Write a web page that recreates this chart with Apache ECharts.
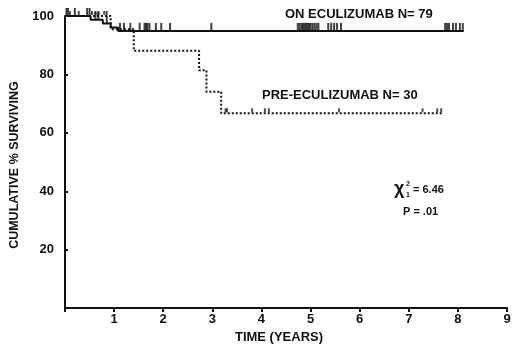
<!DOCTYPE html>
<html>
<head>
<meta charset="utf-8">
<script src="https://cdn.jsdelivr.net/npm/echarts@6/dist/echarts.min.js"></script>
<style>
  html, body { margin: 0; padding: 0; background: #fff; }
  #chart { width: 520px; height: 349px; }
</style>
</head>
<body>
<div id="chart"></div>
<script>
// Kaplan-Meier steps (years, % surviving)
const onTimes = [0, 0.52, 0.77, 0.93, 1.08, 8.12];
const onSurv = [100, 98.7, 97.4, 96.1, 94.9, 94.9];
const preTimes = [0, 0.93, 1.4, 2.73, 2.88, 3.18, 7.7];
const preSurv = [100, 95.5, 88.1, 81.4, 74.1, 66.7, 66.7];

// censored observations (years)
const onCensor = [0.03, 0.06, 0.2, 0.45, 0.5, 0.62, 0.68, 0.85, 1.12, 1.2, 1.33, 1.52,
  1.62, 1.65, 1.68, 1.72, 1.85, 1.96, 2.14, 2.98,
  4.74, 4.78, 4.82, 4.85, 4.88, 4.91, 4.94, 4.97, 5.0, 5.04, 5.08, 5.12, 5.16,
  5.36, 5.42, 5.48, 5.54, 5.62,
  7.74, 7.78, 7.82, 7.9, 7.96, 8.04, 8.1];
const preCensor = [0.1, 0.28, 0.55, 0.62, 0.68, 0.8, 0.85, 3.27, 3.3, 3.81, 4.07, 4.15,
  5.58, 7.28, 7.58, 7.66];

const xTicks = [1, 2, 3, 4, 5, 6, 7, 8, 9];
const yTicks = [20, 40, 60, 80, 100];

function survAt(times, surv, t) {
  let v = surv[0];
  for (let i = 0; i < times.length; i++) {
    if (times[i] <= t) v = surv[i];
  }
  return v;
}

const chart = echarts.init(document.getElementById("chart"));
const font = "Liberation Sans";

chart.setOption({
  animation: false,
  grid: { left: 61, right: 13, top: 16, bottom: 37 },
  xAxis: {
    type: "value",
    min: 0,
    max: 9,
    interval: 1,
    name: "TIME (YEARS)",
    nameLocation: "middle",
    nameGap: 20,
    nameTextStyle: { fontFamily: font, fontWeight: "bold", fontSize: 13, color: "#111", padding: [0, 0, 0, -14] },
    axisLine: { lineStyle: { color: "#111", width: 2 } },
    axisTick: { length: 4, lineStyle: { color: "#111", width: 2 } },
    splitLine: { show: false },
    axisLabel: {
      fontFamily: font, fontWeight: "bold", fontSize: 13, color: "#111", margin: 5,
      formatter: v => (xTicks.indexOf(v) >= 0 ? String(v) : "")
    }
  },
  yAxis: {
    type: "value",
    min: 0,
    max: 100,
    interval: 20,
    name: "CUMULATIVE % SURVIVING",
    nameLocation: "middle",
    nameGap: 44,
    nameTextStyle: { fontFamily: font, fontWeight: "bold", fontSize: 12.5, color: "#111", padding: [0, 0, 0, -6] },
    axisLine: { show: true, lineStyle: { color: "#111", width: 2 } },
    axisTick: { show: true, inside: true, length: 3, lineStyle: { color: "#111", width: 2 } },
    splitLine: { show: false },
    axisLabel: {
      fontFamily: font, fontWeight: "bold", fontSize: 13, color: "#111", margin: 11,
      formatter: v => (yTicks.indexOf(v) >= 0 ? String(v) : "")
    }
  },
  series: [
    {
      type: "line",
      step: "end",
      symbol: "none",
      lineStyle: { color: "#111", width: 2 },
      data: onTimes.map((t, i) => [t, onSurv[i]])
    },
    {
      type: "line",
      step: "end",
      symbol: "none",
      lineStyle: { color: "#111", width: 2, type: [2, 2] },
      data: preTimes.map((t, i) => [t, preSurv[i]])
    },
    {
      type: "scatter",
      symbol: "rect",
      symbolSize: [2, 8],
      symbolOffset: [0, -4],
      itemStyle: { color: "#111" },
      data: onCensor.map(t => [t, survAt(onTimes, onSurv, t)])
    },
    {
      type: "scatter",
      symbol: "rect",
      symbolSize: [2, 4],
      symbolOffset: [0, -3],
      itemStyle: { color: "#222" },
      data: preCensor.map(t => [t, survAt(preTimes, preSurv, t)])
    }
  ],
  graphic: [
    { type: "text", left: 285, top: 8, style: { text: "ON ECULIZUMAB N= 79", font: "bold 13px " + font, fill: "#111" } },
    { type: "text", left: 262, top: 89, style: { text: "PRE-ECULIZUMAB N= 30", font: "bold 13px " + font, fill: "#111" } },
    { type: "text", left: 394, top: 180, style: { text: "χ", font: "bold 18px " + font, fill: "#111" } },
    { type: "text", left: 406, top: 181, style: { text: "2", font: "bold 7px " + font, fill: "#111" } },
    { type: "text", left: 406, top: 192, style: { text: "1", font: "bold 7px " + font, fill: "#111" } },
    { type: "text", left: 413, top: 184, style: { text: "= 6.46", font: "bold 11px " + font, fill: "#111" } },
    { type: "text", left: 403, top: 206, style: { text: "P = .01", font: "bold 11px " + font, fill: "#111" } }
  ]
});
</script>
</body>
</html>
